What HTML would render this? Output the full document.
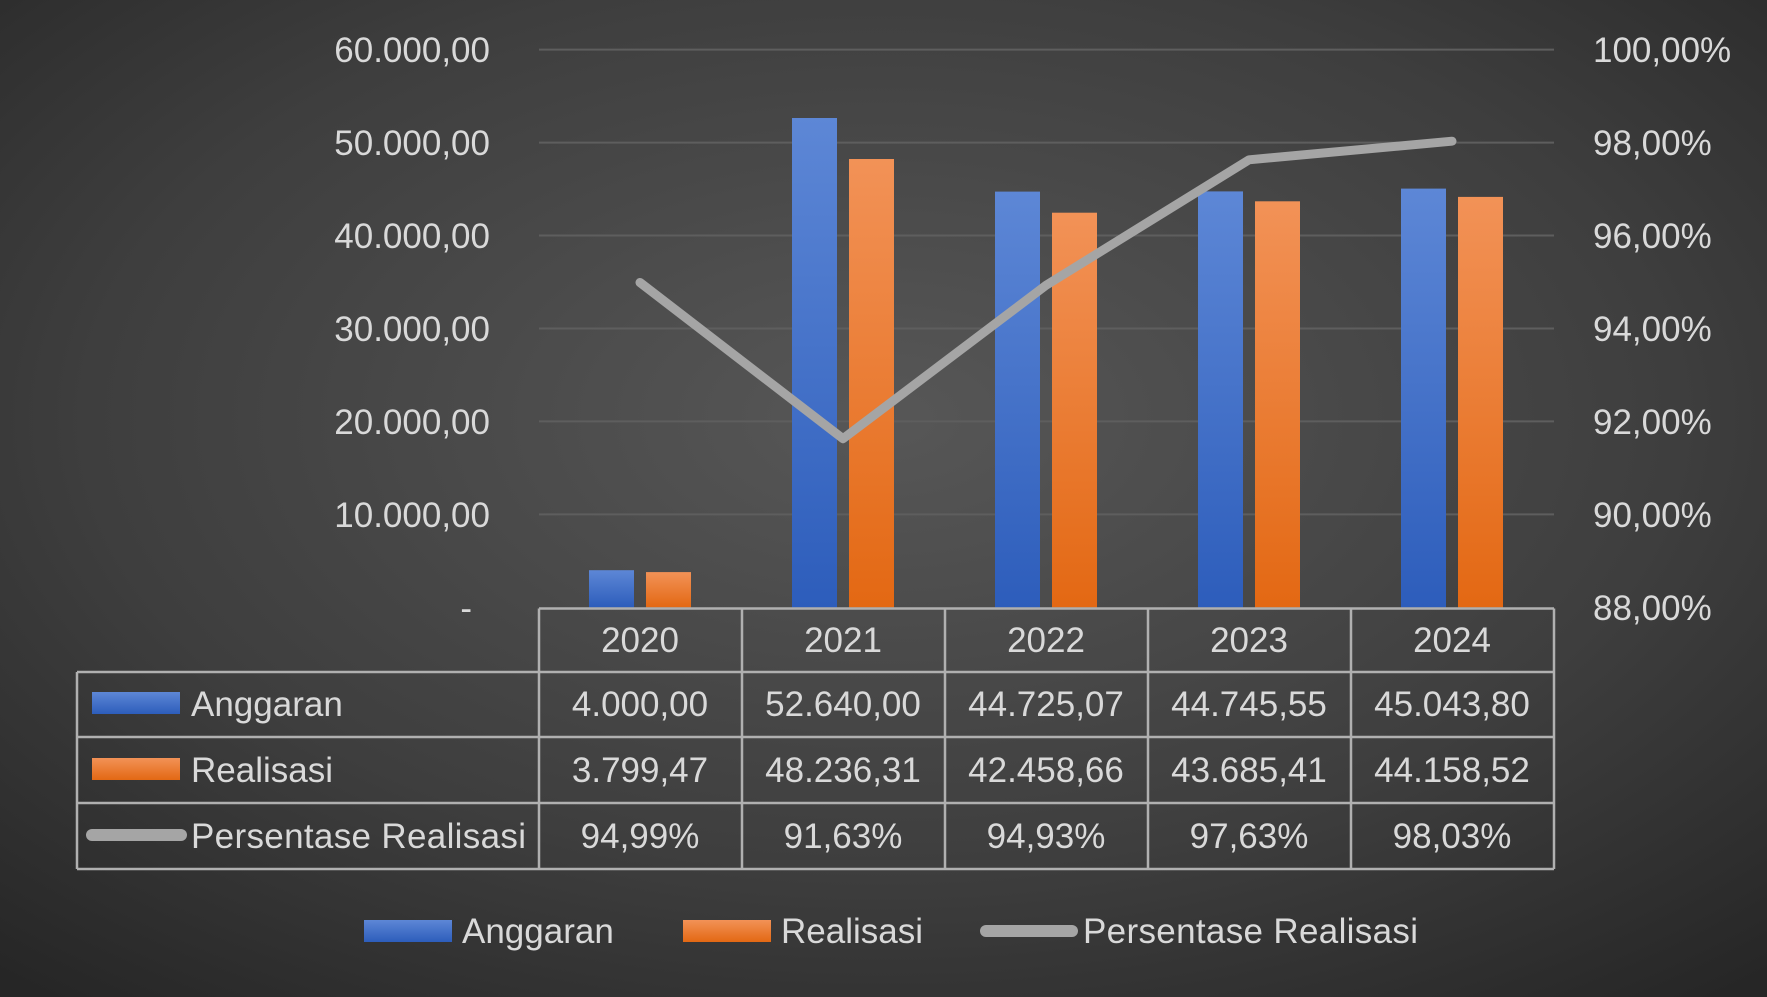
<!DOCTYPE html>
<html><head><meta charset="utf-8"><style>
html,body{margin:0;padding:0;width:1767px;height:997px;overflow:hidden;background:#333}
svg{display:block}
text{font-family:"Liberation Sans",sans-serif;fill:#d9d9d9}
</style></head><body>
<svg width="1767" height="997" viewBox="0 0 1767 997">
<defs>
<radialGradient id="bg" cx="0.5" cy="0.42" r="0.75">
<stop offset="0" stop-color="#575757"/><stop offset="0.6" stop-color="#3e3e3e"/><stop offset="1" stop-color="#262626"/>
</radialGradient>
<linearGradient id="gb" x1="0" y1="0" x2="0" y2="1"><stop offset="0" stop-color="#5d87d6"/><stop offset="1" stop-color="#2d5dbb"/></linearGradient>
<linearGradient id="go" x1="0" y1="0" x2="0" y2="1"><stop offset="0" stop-color="#f29257"/><stop offset="1" stop-color="#e36813"/></linearGradient>
</defs>
<rect width="1767" height="997" fill="url(#bg)"/>
<g stroke="#5e5e5e" stroke-width="2">
<line x1="539" y1="49.6" x2="1554" y2="49.6"/><line x1="539" y1="142.6" x2="1554" y2="142.6"/>
<line x1="539" y1="235.5" x2="1554" y2="235.5"/><line x1="539" y1="328.5" x2="1554" y2="328.5"/>
<line x1="539" y1="421.4" x2="1554" y2="421.4"/><line x1="539" y1="514.4" x2="1554" y2="514.4"/>
</g>
<g font-size="35" text-anchor="end">
<text x="490" y="62">60.000,00</text><text x="490" y="155">50.000,00</text>
<text x="490" y="248">40.000,00</text><text x="490" y="341">30.000,00</text>
<text x="490" y="434">20.000,00</text><text x="490" y="527">10.000,00</text>
<text x="472" y="620">-</text>
</g>
<g font-size="35">
<text x="1593" y="62">100,00%</text><text x="1593" y="155">98,00%</text>
<text x="1593" y="248">96,00%</text><text x="1593" y="341">94,00%</text>
<text x="1593" y="434">92,00%</text><text x="1593" y="527">90,00%</text>
<text x="1593" y="620">88,00%</text>
</g>
<g fill="url(#gb)">
<rect x="589" y="570.2" width="45" height="37.2"/>
<rect x="792" y="118" width="45" height="489.4"/>
<rect x="995" y="191.6" width="45" height="415.8"/>
<rect x="1198" y="191.4" width="45" height="416"/>
<rect x="1401" y="188.6" width="45" height="418.8"/>
</g>
<g fill="url(#go)">
<rect x="646" y="572.1" width="45" height="35.3"/>
<rect x="849" y="159" width="45" height="448.4"/>
<rect x="1052" y="212.7" width="45" height="394.7"/>
<rect x="1255" y="201.3" width="45" height="406.1"/>
<rect x="1458" y="196.9" width="45" height="410.5"/>
</g>
<polyline points="640,282.5 843,438.7 1046,285.3 1249,159.8 1452,141.2" fill="none" stroke="#a5a5a5" stroke-width="9" stroke-linejoin="round" stroke-linecap="round"/>
<g stroke="#b0b0b0" stroke-width="2.5" fill="none">
<line x1="539" y1="608.5" x2="1554" y2="608.5"/>
<line x1="77" y1="672" x2="1554" y2="672"/>
<line x1="77" y1="737" x2="1554" y2="737"/>
<line x1="77" y1="803" x2="1554" y2="803"/>
<line x1="77" y1="869" x2="1554" y2="869"/>
<line x1="77" y1="672" x2="77" y2="869"/>
<line x1="539" y1="608.5" x2="539" y2="869"/>
<line x1="742" y1="608.5" x2="742" y2="869"/>
<line x1="945" y1="608.5" x2="945" y2="869"/>
<line x1="1148" y1="608.5" x2="1148" y2="869"/>
<line x1="1351" y1="608.5" x2="1351" y2="869"/>
<line x1="1554" y1="608.5" x2="1554" y2="869"/>
</g>
<g font-size="35" text-anchor="middle">
<text x="640" y="652">2020</text><text x="843" y="652">2021</text><text x="1046" y="652">2022</text><text x="1249" y="652">2023</text><text x="1452" y="652">2024</text>
<text x="640" y="716">4.000,00</text><text x="843" y="716">52.640,00</text><text x="1046" y="716">44.725,07</text><text x="1249" y="716">44.745,55</text><text x="1452" y="716">45.043,80</text>
<text x="640" y="782">3.799,47</text><text x="843" y="782">48.236,31</text><text x="1046" y="782">42.458,66</text><text x="1249" y="782">43.685,41</text><text x="1452" y="782">44.158,52</text>
<text x="640" y="848">94,99%</text><text x="843" y="848">91,63%</text><text x="1046" y="848">94,93%</text><text x="1249" y="848">97,63%</text><text x="1452" y="848">98,03%</text>
</g>
<rect x="92" y="692" width="88" height="22" fill="url(#gb)"/>
<rect x="92" y="758" width="88" height="22" fill="url(#go)"/>
<line x1="92" y1="835" x2="181" y2="835" stroke="#a5a5a5" stroke-width="12" stroke-linecap="round"/>
<g font-size="35">
<text x="191" y="716">Anggaran</text>
<text x="191" y="782">Realisasi</text>
<text x="191" y="848" textLength="335">Persentase Realisasi</text>
</g>
<rect x="364" y="920" width="88" height="22" fill="url(#gb)"/>
<rect x="683" y="920" width="88" height="22" fill="url(#go)"/>
<line x1="986" y1="931" x2="1072" y2="931" stroke="#a5a5a5" stroke-width="12" stroke-linecap="round"/>
<g font-size="35">
<text x="462" y="943">Anggaran</text>
<text x="781" y="943">Realisasi</text>
<text x="1083" y="943" textLength="335">Persentase Realisasi</text>
</g>
</svg>
</body></html>
